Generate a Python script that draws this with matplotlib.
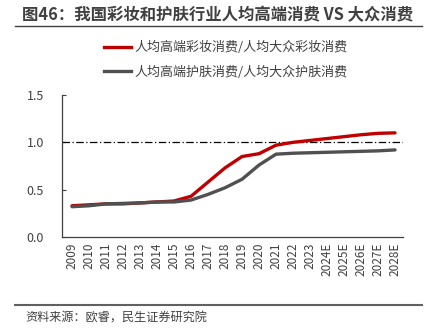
import matplotlib
matplotlib.use("Agg")
import matplotlib.pyplot as plt
from matplotlib.lines import Line2D

plt.rcParams['font.family'] = ['Noto Sans CJK SC', 'DejaVu Sans']

years = ["2009", "2010", "2011", "2012", "2013", "2014", "2015", "2016", "2017", "2018",
         "2019", "2020", "2021", "2022", "2023", "2024E", "2025E", "2026E", "2027E", "2028E"]
makeup = [0.33, 0.34, 0.35, 0.35, 0.36, 0.37, 0.38, 0.43, 0.58, 0.73,
          0.85, 0.88, 0.97, 1.00, 1.02, 1.04, 1.06, 1.08, 1.095, 1.10]
skincare = [0.32, 0.33, 0.35, 0.355, 0.36, 0.37, 0.37, 0.39, 0.45, 0.52,
            0.61, 0.76, 0.875, 0.885, 0.89, 0.895, 0.90, 0.905, 0.91, 0.92]
makeup_label = "人均高端彩妆消费/人均大众彩妆消费"
skincare_label = "人均高端护肤消费/人均大众护肤消费"
title = "图46：我国彩妆和护肤行业人均高端消费 VS 大众消费"
source = "资料来源：欧睿，民生证券研究院"

red = "#C00000"
gray = "#505050"
txt = "#404040"

fig = plt.figure(figsize=(4.35, 3.33), dpi=100)
ax = fig.add_axes([62/435, 1-237/333, (403-62)/435, (237-95)/333])

x = list(range(len(years)))
ax.plot(x, makeup, color=red, lw=2.4, solid_capstyle='round', zorder=3)
ax.plot(x, skincare, color=gray, lw=2.4, solid_capstyle='round', zorder=3)
ax.axhline(1.0, color='black', lw=0.9, ls=(0, (6, 2, 1, 2)), zorder=2)

ax.set_xlim(-0.59, 19.47)
ax.set_ylim(0, 1.5)
ax.set_yticks([0, 0.5, 1.0, 1.5])
ax.set_yticklabels(["0.0", "0.5", "1.0", "1.5"])
ax.set_xticks(x)
ax.set_xticklabels(years, rotation=90)
ax.tick_params(axis='x', length=0, pad=4, labelsize=8.5, colors=txt)
ax.tick_params(axis='y', length=3, direction='in', pad=13, labelsize=9, colors=txt,
               width=0.8, color=txt)
for s in ['top', 'right']:
    ax.spines[s].set_visible(False)
for s in ['left', 'bottom']:
    ax.spines[s].set_color(txt)
    ax.spines[s].set_linewidth(0.9)

# title
fig.text(218/435, 1-15/333, title, ha='center', va='center', fontsize=11.8,
         fontweight='bold', color=txt)
fig.add_artist(Line2D([15/435, 422/435], [1-26/333, 1-26/333], color=txt, lw=1.0))

# legend
handles = [Line2D([], [], color=red, lw=2.4), Line2D([], [], color=gray, lw=2.4)]
fig.legend(handles, [makeup_label, skincare_label], loc='center',
           bbox_to_anchor=(226/435, 1-60/333), frameon=False, fontsize=9.4,
           handlelength=2.0, handletextpad=0.3, labelspacing=0.85,
           labelcolor=txt)

# bottom rule and source
fig.add_artist(Line2D([15/435, 422/435], [1-305/333, 1-305/333], color='#606060', lw=1.5))
fig.text(25/435, 1-318/333, source, ha='left', va='center', fontsize=8.7, color=txt)

fig.savefig("out.png", dpi=100)
